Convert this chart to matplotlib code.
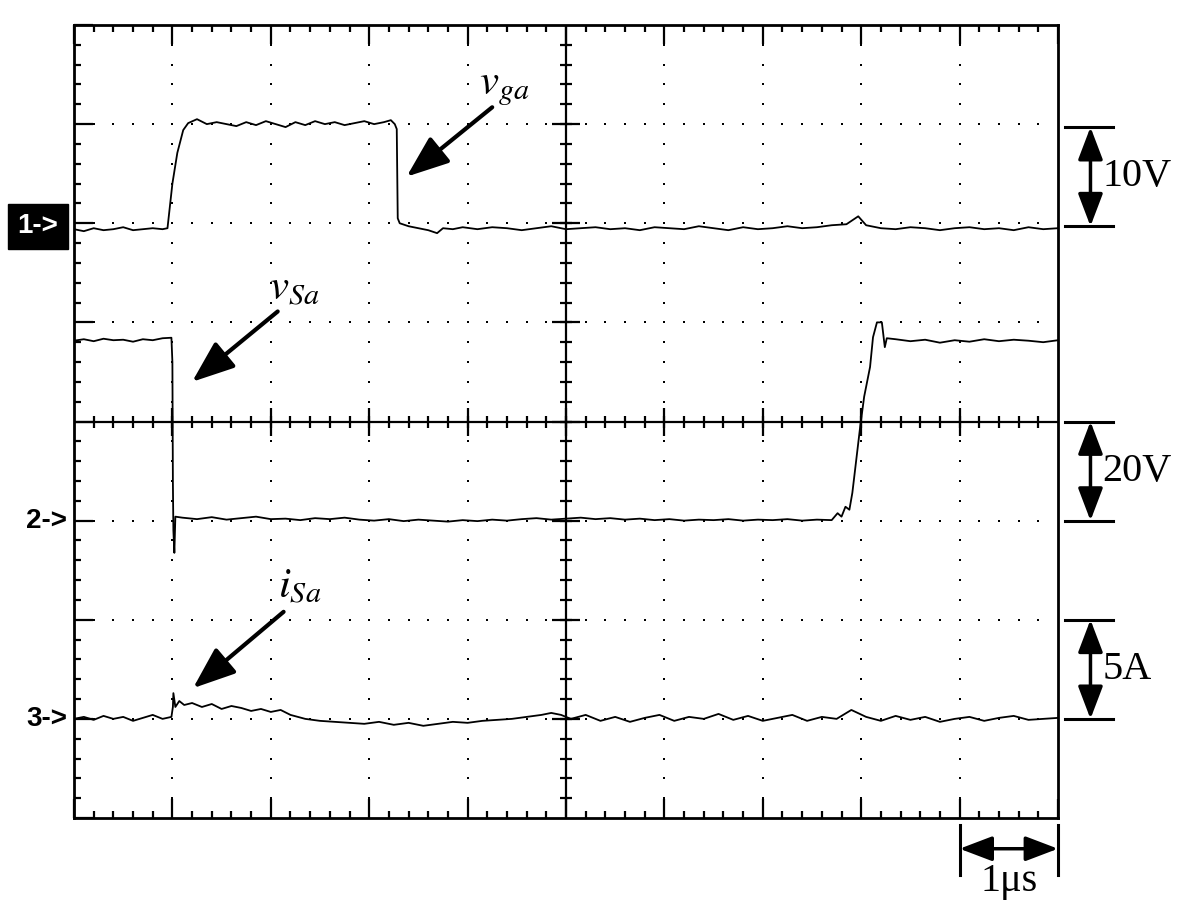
import numpy as np
import matplotlib
matplotlib.use("Agg")
from matplotlib import pyplot as plt

plt.rcParams['mathtext.fontset'] = 'stix'

# --------------------------------------------------
# Oscilloscope settings (1 us/div, 10 div x 8 div)
# --------------------------------------------------
ch1_ground, ch1_scale = 5.97, 10.0   # v_ga, V/div
ch2_ground, ch2_scale = 3.0, 20.0    # v_Sa, V/div
ch3_ground, ch3_scale = 1.0, 5.0     # i_Sa, A/div

# Channel 1: gate voltage v_ga (V) vs time (us)
t_ga = [0.00, 0.10, 0.20, 0.30, 0.40, 0.50, 0.60, 0.70, 0.80, 0.90, 0.95,
        1.00, 1.05, 1.11, 1.16,
        1.25, 1.35, 1.45, 1.55, 1.65, 1.75, 1.85, 1.95, 2.05, 2.15, 2.25,
        2.35, 2.45, 2.55, 2.65, 2.75, 2.85, 2.95, 3.05, 3.15, 3.22, 3.26,
        3.28, 3.29, 3.31,
        3.40, 3.50, 3.60, 3.69, 3.75, 3.85, 3.95,
        4.10, 4.25, 4.40, 4.55, 4.70, 4.85, 5.00, 5.15, 5.30, 5.45, 5.60,
        5.75, 5.90, 6.05, 6.20, 6.35, 6.50, 6.65, 6.80, 6.95, 7.10, 7.25,
        7.40, 7.55, 7.70, 7.85,
        7.97, 8.05,
        8.20, 8.35, 8.50, 8.65, 8.80, 8.95, 9.10, 9.25, 9.40, 9.55, 9.70,
        9.85, 10.0]
v_ga = [-0.3, -0.5, -0.2, -0.4, -0.3, -0.1, -0.4, -0.3, -0.2, -0.3, -0.2,
        4.3, 7.4, 9.7, 10.4,
        10.8, 10.3, 10.5, 10.3, 10.1, 10.5, 10.2, 10.6, 10.3, 10.0, 10.5,
        10.2, 10.6, 10.3, 10.5, 10.2, 10.4, 10.6, 10.3, 10.5, 10.7, 10.3,
        9.8, 0.8, 0.3,
        0.0, -0.2, -0.4, -0.7, -0.2, -0.3, -0.1,
        -0.3, -0.1, -0.2, -0.4, -0.2, 0.0, -0.3, -0.2, -0.1, -0.3, -0.2,
        -0.4, -0.1, -0.2, -0.3, 0.0, -0.2, -0.4, -0.1, -0.3, -0.2, 0.0,
        -0.2, -0.1, 0.1, 0.2,
        1.0, 0.1,
        -0.2, -0.3, -0.1, -0.2, -0.4, -0.2, -0.1, -0.3, -0.2, -0.4, -0.1,
        -0.3, -0.2]

# Channel 2: switch voltage v_Sa (V)
t_sa = [0.00, 0.10, 0.20, 0.30, 0.40, 0.50, 0.60, 0.70, 0.80, 0.90, 0.99,
        1.00, 1.005, 1.01, 1.02, 1.03,
        1.10, 1.25, 1.40, 1.55, 1.70, 1.85, 2.00, 2.15, 2.30, 2.45, 2.60,
        2.75, 2.90, 3.05, 3.20, 3.35, 3.50, 3.65, 3.80, 3.95, 4.10, 4.25,
        4.40, 4.55, 4.70, 4.85, 5.00, 5.15, 5.30, 5.45, 5.60, 5.75, 5.90,
        6.05, 6.20, 6.35, 6.50, 6.65, 6.80, 6.95, 7.10, 7.25, 7.40, 7.55,
        7.70,
        7.76, 7.80, 7.84, 7.88, 7.91, 7.95, 7.99, 8.03, 8.09, 8.12, 8.16,
        8.21, 8.24, 8.26,
        8.35, 8.50, 8.65, 8.80, 8.95, 9.10, 9.25, 9.40, 9.55, 9.70, 9.85,
        10.0]
v_sa = [36.3, 36.6, 36.2, 36.7, 36.4, 36.5, 36.1, 36.6, 36.4, 36.8, 36.9,
        32.0, 7.7, -2.0, -6.5, 0.8,
        0.6, 0.3, 0.7, 0.2, 0.5, 0.8, 0.3, 0.4, 0.1, 0.5, 0.3,
        0.6, 0.2, 0.0, 0.3, -0.1, 0.2, 0.0, -0.2, 0.1, -0.1, 0.2,
        0.0, 0.3, 0.5, 0.2, 0.4, 0.6, 0.3, 0.5, 0.2, 0.4, 0.1,
        0.3, 0.0, 0.2, 0.1, 0.3, 0.0, 0.2, 0.1, 0.3, 0.0, 0.2,
        0.1,
        1.5, 0.8, 2.8, 2.2, 5.6, 12.3, 19.0, 25.0, 31.0, 37.0, 40.0,
        40.0, 35.0, 36.8,
        36.6, 36.2, 36.5, 35.9, 36.4, 36.1, 36.6, 36.2, 36.5, 36.3, 36.0,
        36.4]

# Channel 3: switch current i_Sa (A)
t_is = [0.00, 0.10, 0.20, 0.30, 0.40, 0.50, 0.60, 0.70, 0.80, 0.90, 0.99,
        1.005, 1.01, 1.03,
        1.07, 1.12, 1.20, 1.30, 1.40, 1.50, 1.60, 1.70, 1.80, 1.90,
        2.00, 2.10, 2.20, 2.35, 2.50, 2.65, 2.80, 2.95, 3.10, 3.25,
        3.40, 3.55, 3.70, 3.85, 4.00, 4.15, 4.30, 4.45, 4.60, 4.75,
        4.85, 4.95,
        5.05, 5.20, 5.35, 5.50, 5.65, 5.80, 5.95, 6.10, 6.25, 6.40,
        6.55, 6.70, 6.85, 7.00, 7.15, 7.30, 7.45, 7.60, 7.75, 7.90,
        8.05, 8.20, 8.35, 8.50, 8.65, 8.80, 8.95, 9.10, 9.25, 9.40,
        9.55, 9.70, 9.85, 10.0]
i_sa = [0.0, 0.1, -0.05, 0.15, 0.0, 0.1, -0.1, 0.05, 0.2, 0.0, 0.1,
        0.6, 1.3, 0.6,
        0.9, 0.7, 0.8, 0.6, 0.75, 0.5, 0.65, 0.55, 0.4, 0.5,
        0.35, 0.45, 0.2, 0.0, -0.1, -0.15, -0.2, -0.25, -0.15, -0.3,
        -0.2, -0.35, -0.25, -0.15, -0.2, -0.1, -0.05, 0.0, 0.1, 0.2,
        0.3, 0.2,
        0.0, 0.2, -0.1, 0.1, -0.15, 0.05, 0.2, -0.1, 0.1, 0.0,
        0.25, -0.05, 0.15, -0.1, 0.05, 0.2, -0.1, 0.1, 0.0, 0.45,
        0.1, -0.1, 0.15, -0.05, 0.1, -0.15, 0.0, 0.1, -0.1, 0.05,
        0.15, -0.05, 0.0, 0.05]

# --------------------------------------------------
# Graticule
# --------------------------------------------------
fig = plt.figure(figsize=(11.92, 9.16), dpi=100)
ax = fig.add_axes([74 / 1192, 98 / 916, 984 / 1192, 793 / 916])
ax.set_xlim(0, 10)
ax.set_ylim(0, 8)

for s in ax.spines.values():
    s.set_linewidth(2)

ax.set_xticks(np.arange(0, 11))
ax.set_yticks(np.arange(0, 9))
ax.set_xticks(np.arange(0, 10.01, 0.2), minor=True)
ax.set_yticks(np.arange(0, 8.01, 0.2), minor=True)
ax.tick_params(which='both', direction='in', top=True, right=True,
               labelbottom=False, labelleft=False, width=1.6)
ax.tick_params(which='major', length=14)
ax.tick_params(which='minor', length=5)

# dotted grid
steps = np.arange(0.2, 10, 0.2)
for gy in [1, 2, 3, 5, 6, 7]:
    ax.scatter(steps, np.full_like(steps, gy), s=2.2, marker='s', c='k', lw=0)
vsteps = np.arange(0.2, 8, 0.2)
for gx in [1, 2, 3, 4, 6, 7, 8, 9]:
    ax.scatter(np.full_like(vsteps, gx), vsteps, s=2.2, marker='s', c='k', lw=0)

# center cross with ticks
ax.axhline(4, color='k', lw=1.6)
ax.axvline(5, color='k', lw=1.6)
minor_x = np.arange(0.2, 10, 0.2)
minor_y = np.arange(0.2, 8, 0.2)
ax.plot(minor_x, np.full_like(minor_x, 4), ls='none', marker='|', ms=9, mew=1.6, color='k')
ax.plot(np.full_like(minor_y, 5), minor_y, ls='none', marker='_', ms=9, mew=1.6, color='k')
ax.plot(np.arange(1, 10), np.full(9, 4), ls='none', marker='|', ms=20, mew=1.6, color='k')
ax.plot(np.full(7, 5), np.arange(1, 8), ls='none', marker='_', ms=20, mew=1.6, color='k')

# --------------------------------------------------
# Channel axes
# --------------------------------------------------
channels = [(ch1_ground, ch1_scale, t_ga, v_ga),
            (ch2_ground, ch2_scale, t_sa, v_sa),
            (ch3_ground, ch3_scale, t_is, i_sa)]
ch_axes = []
for ground, scale, t, v in channels:
    cax = ax.twinx()
    cax.set_ylim(-ground * scale, (8 - ground) * scale)
    cax.axis('off')
    cax.plot(t, v, color='k', lw=1.3)
    ch_axes.append(cax)

# channel markers
mk = dict(ha='right', va='center', fontsize=20, fontweight='bold',
          family='Liberation Sans', clip_on=False)
ch_axes[0].text(-0.16, 0, '1->', color='white',
                bbox=dict(boxstyle='square,pad=0.35', fc='black', ec='black'), **mk)
ch_axes[1].text(-0.07, 0, '2->', color='black', **mk)
ch_axes[2].text(-0.07, 0, '3->', color='black', **mk)

# --------------------------------------------------
# Labels and arrows
# --------------------------------------------------
arrow = dict(arrowstyle='-|>,head_length=1.3,head_width=0.5', lw=3,
             color='k', mutation_scale=20, shrinkA=0, shrinkB=0)
ax.text(4.12, 7.30, r'$v_{ga}$', fontsize=31)
ax.annotate('', xy=(3.38, 6.47), xytext=(4.25, 7.17), arrowprops=arrow)
ax.text(1.98, 5.23, r'$v_{Sa}$', fontsize=31)
ax.annotate('', xy=(1.20, 4.40), xytext=(2.07, 5.11), arrowprops=arrow)
ax.text(2.07, 2.22, r'$i_{Sa}$', fontsize=31)
ax.annotate('', xy=(1.21, 1.31), xytext=(2.13, 2.08), arrowprops=arrow)

# scale bars on the right
dbl = dict(arrowstyle='<|-|>,head_length=1.0,head_width=0.38', lw=2.5,
           color='k', mutation_scale=20, shrinkA=0, shrinkB=0)
bar_labels = ['10V', '20V', '5A']
for cax, (ground, scale, t, v), lab in zip(ch_axes, channels, bar_labels):
    for level in [0, scale]:
        cax.plot([10.07, 10.56], [level, level], color='k', lw=2.2, clip_on=False)
    cax.annotate('', xy=(10.33, scale), xytext=(10.33, 0), arrowprops=dbl,
                 annotation_clip=False)
    cax.text(10.45, scale / 2, lab, ha='left', va='center', fontsize=29,
             family='Liberation Serif', clip_on=False)

# time scale bar
for tx in [9, 10]:
    ax.plot([tx, tx], [-0.07, -0.57], color='k', lw=2.2, clip_on=False)
ax.annotate('', xy=(10, -0.31), xytext=(9, -0.31), arrowprops=dbl,
            annotation_clip=False)
ax.text(9.5, -0.64, '1\u03bcs', ha='center', va='center', fontsize=29,
        family='Liberation Serif', clip_on=False)

fig.savefig('out.png', dpi=100, facecolor='white')
